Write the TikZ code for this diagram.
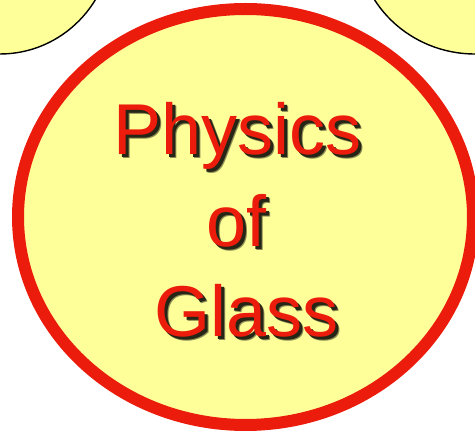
\documentclass[tikz,border=0pt]{standalone}
\usepackage{fontspec}
\setmainfont{Liberation Sans}
\usetikzlibrary{shapes.geometric}
\definecolor{bubblefill}{HTML}{FFFF99}
\definecolor{glassred}{HTML}{EC1C0C}
% text with a soft black shadow below right
\newcommand{\shadowed}[1]{%
  \makebox[0pt][l]{\hspace{4pt}\raisebox{-4pt}{\color{black!45!bubblefill}#1}}%
  \makebox[0pt][l]{\hspace{3pt}\raisebox{-3pt}{\color{black!85!bubblefill}#1}}%
  #1}

\begin{document}
\begin{tikzpicture}[
        x=1pt, y=-1pt,
        bubble/.style={ellipse, draw=black, fill=bubblefill, line width=1.4pt, inner sep=0pt},
        mainbubble/.style={ellipse, draw=glassred, fill=bubblefill, line width=12pt, inner sep=0pt},
        word/.style={anchor=base, inner sep=0pt, text=glassred,
          font=\fontsize{72}{86}\selectfont}
      ]
        \useasboundingbox (0,0) rectangle (475,435);
        \clip (0,0) rectangle (475,435);
        \node[bubble, minimum width=224pt, minimum height=228pt] (left) at (0,-60) {};
        \node[bubble, minimum width=236pt, minimum height=228pt] (right) at (475,-60) {};
        \node[mainbubble, minimum width=455pt, minimum height=416pt] (glass) at (245.5,217) {};
        \node[word] (physics) at (237.5,155) {\shadowed{Physics}};
        \node[word] (of) at (236.5,247) {\shadowed{of}};
        \node[word] (glasstext) at (246.5,337) {\shadowed{Glass}};
      \end{tikzpicture}
\end{document}
